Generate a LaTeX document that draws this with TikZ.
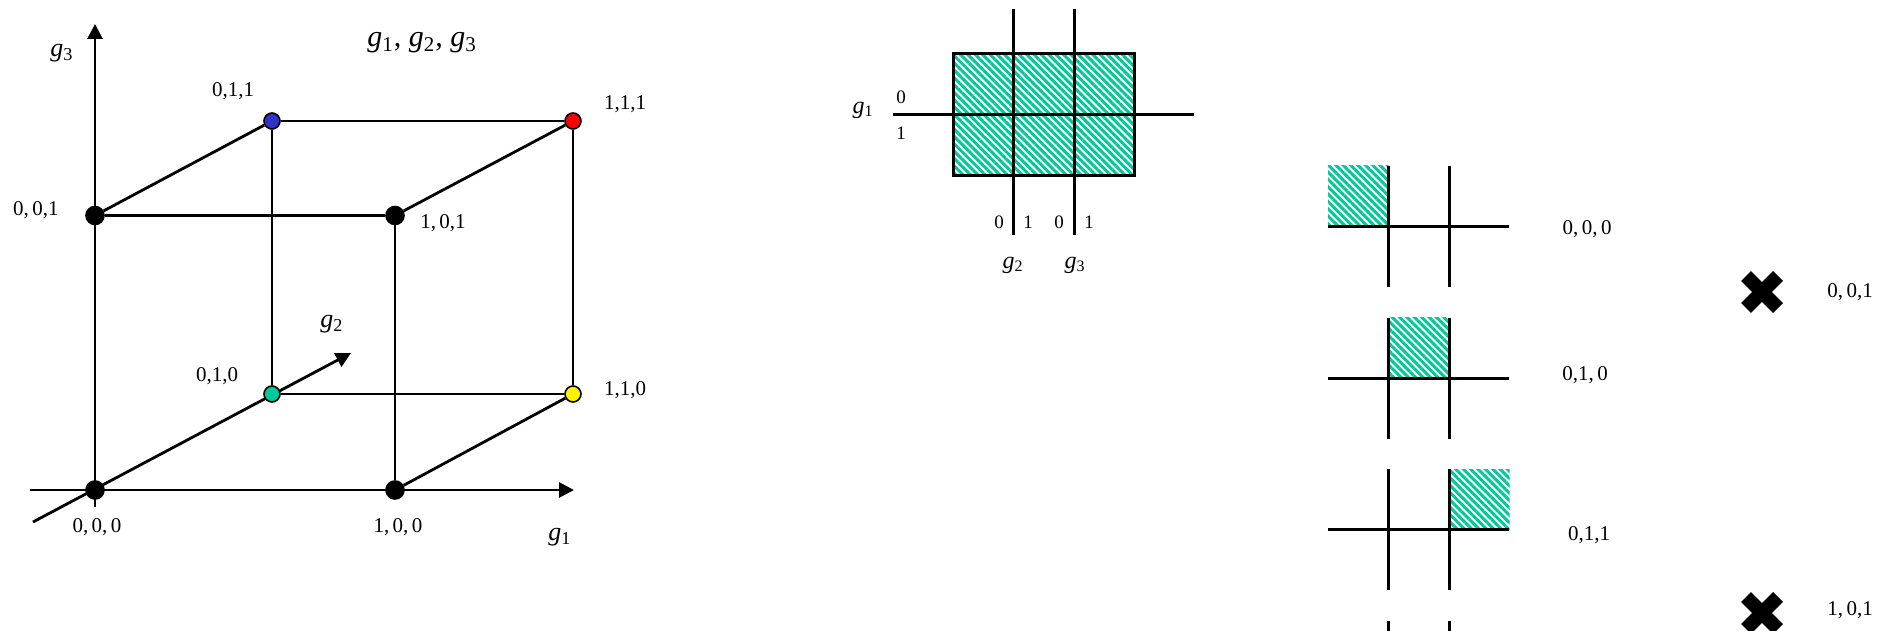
\documentclass[tikz,border=0pt]{standalone}
\usepackage{fontspec}
\setmainfont{Liberation Serif}
\usetikzlibrary{positioning,arrows.meta,shapes.misc,patterns.meta,backgrounds}
\definecolor{kteal}{RGB}{0,200,150}
\definecolor{kblue}{RGB}{51,51,204}
\newcommand{\gv}[1]{\textit{g}\textsubscript{#1}}
\tikzset{
  axis/.style={line width=1.4pt,-{Triangle[length=7.5pt,width=7.5pt]}},
  edge/.style={line width=1.4pt},
  vdot/.style={circle,draw=black,fill=black,line width=0.8pt,minimum size=9pt,inner sep=0pt},
  cdot/.style={vdot,minimum size=8pt},
  num/.style={font=\fontsize{10.5}{12}\selectfont},
  knum/.style={font=\fontsize{9.5}{11}\selectfont},
  glab/.style={font=\fontsize{13}{15}\selectfont},
  kglab/.style={font=\fontsize{12}{14}\selectfont},
  gtitle/.style={font=\fontsize{15}{17}\selectfont},
  grid/.style={line width=1.5pt},
  hatch/.style={pattern={Lines[angle=-45,distance=2.6pt,line width=1.5pt]},pattern color=kteal},
  xmark/.style={cross out,draw,line width=7pt,minimum size=16pt,inner sep=0pt,outer sep=0pt},
}
\begin{document}
\begin{tikzpicture}[x=0.5pt,y=-0.5pt]
  \useasboundingbox (0,0) rectangle (1889,631);
  % cube corners
  \node[vdot] (v000) at (95,490) {};
  \node[vdot] (v100) at (395,490) {};
  \node[vdot] (v001) at (95,215.5) {};
  \node[vdot] (v101) at (395,215.5) {};
  \node[cdot,fill=kteal] (v010) at (272,394) {};
  \node[cdot,fill=yellow] (v110) at (573,394) {};
  \node[cdot,fill=kblue] (v011) at (272,121) {};
  \node[cdot,fill=red] (v111) at (573,121) {};
  \coordinate (g1s) at (30,490); \coordinate (g1e) at (574,490);
  \coordinate (g2s) at (33,522); \coordinate (g2e) at (351,353);
  \coordinate (g3s) at (95,507); \coordinate (g3e) at (95,24);
  \begin{scope}[on background layer]
    \draw[axis] (g1s) -- (g1e);
    \draw[axis] (g2s) -- (g2e);
    \draw[axis] (g3s) -- (g3e);
    \draw[edge] (v100) -- (v101);
    \draw[edge] (v100) -- (v110);
    \draw[edge] (v001) -- (v101);
    \draw[edge] (v001) -- (v011);
    \draw[edge] (v010) -- (v011);
    \draw[edge] (v010) -- (v110);
    \draw[edge] (v101) -- (v111);
    \draw[edge] (v011) -- (v111);
    \draw[edge] (v110) -- (v111);
  \end{scope}
  \node[glab] (l3) at (62,53) {\gv{3}};
  \node[glab] (l2) at (332,324) {\gv{2}};
  \node[glab] (l1) at (560,537) {\gv{1}};
  \node[gtitle] (ttl) at (422,43) {\gv{1}, \gv{2}, \gv{3}};
  \node[num] (n011) at (233,91) {0,1,1};
  \node[num] (n111) at (625,104) {1,1,1};
  \node[num] (n001) at (36,210) {0,\,0,1};
  \node[num] (n101) at (443,223) {1,\,0,1};
  \node[num] (n010) at (217,376) {0,1,0};
  \node[num] (n110) at (625,390) {1,1,0};
  \node[num] (n000) at (97,527) {0,\,0,\,0};
  \node[num] (n100) at (398,527) {1,\,0,\,0};

  % karnaugh map
  \draw[grid,hatch] (953,54) rectangle (1134,175);
  \draw[grid] (893,115) -- (1194,115);
  \draw[grid] (1013.5,9) -- (1013.5,235);
  \draw[grid] (1074,9) -- (1074,235);
  \node[kglab] (k1) at (863,110) {\gv{1}};
  \node[knum] (k10) at (901,97) {0};
  \node[knum] (k11) at (901,133) {1};
  \node[knum] (k20) at (999,222) {0};
  \node[knum] (k21) at (1028,222) {1};
  \node[knum] (k30) at (1059,222) {0};
  \node[knum] (k31) at (1089,222) {1};
  \node[kglab] (k2) at (1013,265) {\gv{2}};
  \node[kglab] (k3) at (1075,265) {\gv{3}};

  % single cells
  \fill[hatch] (1328,165.5) rectangle (1388.5,226);
  \draw[grid] (1328,226) -- (1509,226);
  \draw[grid] (1388.5,165.5) -- (1388.5,286.5);
  \draw[grid] (1449,165.5) -- (1449,286.5);
  \node[num] (s000) at (1587,229) {0,\,0,\,0};

  \fill[hatch] (1388.5,317.5) rectangle (1449,378);
  \draw[grid] (1328,378) -- (1509,378);
  \draw[grid] (1388.5,317.5) -- (1388.5,438.5);
  \draw[grid] (1449,317.5) -- (1449,438.5);
  \node[num] (s010) at (1585,375) {0,1,\,0};

  \fill[hatch] (1449,469) rectangle (1509.5,529.5);
  \draw[grid] (1328,529.5) -- (1509,529.5);
  \draw[grid] (1388.5,469) -- (1388.5,590);
  \draw[grid] (1449,469) -- (1449,590);
  \node[num] (s011) at (1589,535) {0,1,1};

  \draw[grid] (1388.5,620.5) -- (1388.5,631);
  \draw[grid] (1449,620.5) -- (1449,631);

  % excluded
  \node[xmark] (x001) at (1762,292) {};
  \node[num] (t001) at (1850,292) {0,\,0,1};
  \node[xmark] (x101) at (1762,613) {};
  \node[num] (t101) at (1850,610) {1,\,0,1};
\end{tikzpicture}
\end{document}
